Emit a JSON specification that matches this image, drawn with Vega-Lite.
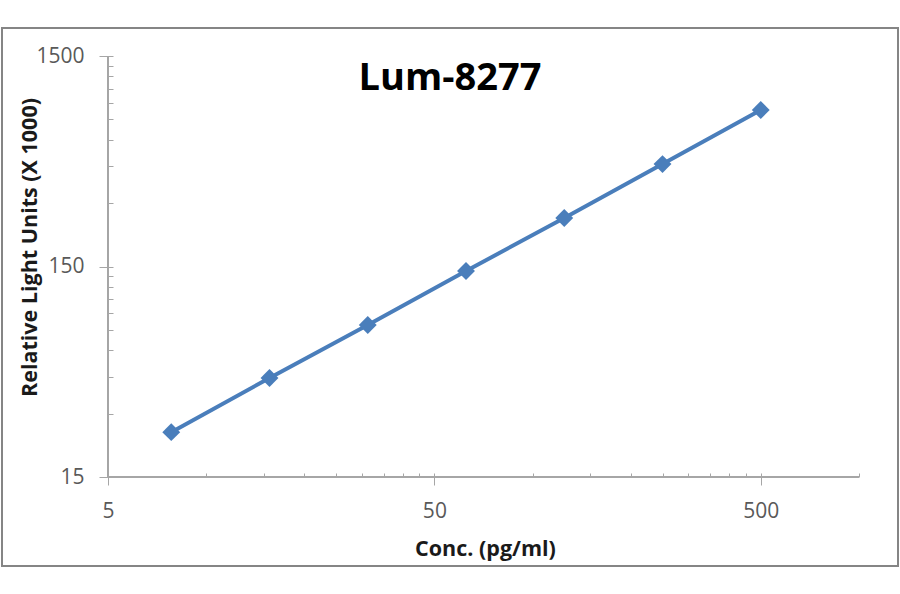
{
  "$schema": "https://vega.github.io/schema/vega-lite/v6.json",
  "autosize": {"type": "none"},
  "padding": {"left": 2, "top": 28, "right": 2, "bottom": 28},
  "width": 896,
  "height": 538,
  "background": "white",
  "title": {
    "text": "Lum-8277",
    "font": "Open Sans",
    "fontSize": 38,
    "fontWeight": "bold",
    "color": "#000000",
    "anchor": "middle",
    "frame": "group",
    "baseline": "alphabetic",
    "offset": -100
  },
  "config": {
    "view": {"stroke": "#858585", "strokeWidth": 2},
    "axis": {
      "labelFont": "Open Sans",
      "titleFont": "Open Sans",
      "grid": false,
      "domain": false,
      "tickColor": "#a6a6a6",
      "labelColor": "#595959"
    }
  },
  "data": {
    "values": [
      {"conc": 7.8125, "rlu": 24.5},
      {"conc": 15.625, "rlu": 44.3},
      {"conc": 31.25, "rlu": 79.1},
      {"conc": 62.5, "rlu": 142.8},
      {"conc": 125, "rlu": 255},
      {"conc": 250, "rlu": 460},
      {"conc": 500, "rlu": 831}
    ]
  },
  "resolve": {"axis": {"x": "independent", "y": "independent"}},
  "layer": [
    {
      "mark": {"type": "rule", "color": "#a6a6a6", "strokeWidth": 1.2},
      "encoding": {
        "x": {"datum": 5, "type": "quantitative",
          "scale": {"type": "log", "domain": [2.3672, 1316.7], "nice": false},
          "axis": {
            "orient": "bottom", "offset": -89, "values": [5, 10, 15, 20, 25, 30, 35, 40, 45, 50, 100, 150, 200, 250, 300, 350, 400, 450, 500, 1000],
            "labels": false, "tickSize": -4, "title": null
          }
        },
        "x2": {"datum": 1000},
        "y": {"datum": 15, "type": "quantitative",
          "scale": {"type": "log", "domain": [5.666, 2038], "nice": false},
          "axis": null
        }
      }
    },
    {
      "mark": {"type": "rule", "color": "#a6a6a6", "strokeWidth": 1.2},
      "encoding": {
        "x": {"datum": 5, "type": "quantitative", "axis": null},
        "y": {"datum": 15, "type": "quantitative",
          "axis": {
            "orient": "left", "offset": -106, "values": [15, 30, 45, 60, 75, 90, 105, 120, 135, 150, 300, 450, 600, 750, 900, 1050, 1200, 1350, 1500],
            "labels": false, "tickSize": -5, "title": null
          }
        },
        "y2": {"datum": 1500}
      }
    },
    {
      "mark": {"type": "line", "color": "#4a7ebb", "strokeWidth": 4},
      "encoding": {
        "x": {"field": "conc", "type": "quantitative",
          "axis": {
            "orient": "bottom", "offset": -89, "values": [5, 50, 500], "format": "d",
            "tickSize": 8, "labelPadding": 15, "labelFontSize": 21,
            "title": "Conc. (pg/ml)", "titleFontSize": 21.5, "titleFontWeight": "bold", "titleColor": "#1a1a1a",
            "titleBaseline": "alphabetic", "titleX": 483, "titleY": 78
          }
        },
        "y": {"field": "rlu", "type": "quantitative",
          "axis": {
            "orient": "left", "offset": -106, "values": [15, 150, 1500], "format": "d",
            "tickSize": 9, "labelPadding": 15, "labelFontSize": 21,
            "title": "Relative Light Units (X 1000)", "titleFontSize": 21.5, "titleFontWeight": "bold", "titleColor": "#1a1a1a",
            "titleBaseline": "alphabetic", "titleAngle": -90, "titleX": -72, "titleY": 219
          }
        }
      }
    },
    {
      "mark": {"type": "point", "shape": "diamond", "filled": true, "color": "#4a7ebb", "size": 320, "opacity": 1},
      "encoding": {
        "x": {"field": "conc", "type": "quantitative", "axis": null},
        "y": {"field": "rlu", "type": "quantitative", "axis": null}
      }
    }
  ]
}
